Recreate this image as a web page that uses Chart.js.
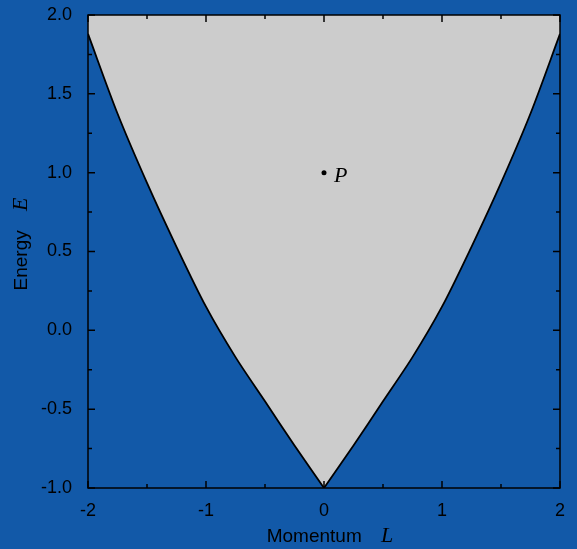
<!DOCTYPE html>
<html lang="en">
<head>
<meta charset="UTF-8">
<title>Energy vs momentum</title>
<script src="https://cdn.jsdelivr.net/npm/chart.js"></script>
<style>
  html, body { margin: 0; padding: 0; background: #1259a8; overflow: hidden; }
</style>
</head>
<body>
<canvas id="regionChart" width="577" height="549"></canvas>
<script>
// boundary of the allowed region, E read at steps of 0.25 in L
const momentumL = [-2, -1.75, -1.5, -1.25, -1, -0.75, -0.5, -0.25, 0, 0.25, 0.5, 0.75, 1, 1.25, 1.5, 1.75, 2];
const energyE = [1.88, 1.375, 0.935, 0.53, 0.15, -0.17, -0.45, -0.73, -1, -0.73, -0.45, -0.17, 0.15, 0.53, 0.935, 1.375, 1.88];
const pointP = { L: 0, E: 1, name: 'P' };
const xTicks = [-2, -1, 0, 1, 2];
const yTicks = [-1, -0.5, 0, 0.5, 1, 1.5, 2];
const xMinor = [-1.5, -0.5, 0.5, 1.5];
const yMinor = [-0.75, -0.25, 0.25, 0.75, 1.25, 1.75];

const curve = momentumL.map((L, i) => ({ x: L, y: energyE[i] }));
const cusp = momentumL.indexOf(0);
const leftBranch = curve.slice(0, cusp + 1);
const rightBranch = curve.slice(cusp);

const SANS = '"Liberation Sans", Arial, Helvetica, sans-serif';
const SERIF = '"Liberation Serif", "Times New Roman", serif';

// frame, inward ticks, axis titles and the P label
const decorations = {
    id: 'decorations',
    afterDatasetsDraw(chart) {
        const { ctx, chartArea: a, scales: { x, y } } = chart;
        ctx.save();
        ctx.strokeStyle = '#000';
        ctx.lineWidth = 1.5;
        ctx.strokeRect(a.left, a.top, a.right - a.left, a.bottom - a.top);

        ctx.beginPath();
        const xTick = (v, len) => {
            const px = x.getPixelForValue(v);
            ctx.moveTo(px, a.bottom); ctx.lineTo(px, a.bottom - len);
            ctx.moveTo(px, a.top); ctx.lineTo(px, a.top + len);
        };
        const yTick = (v, len) => {
            const py = y.getPixelForValue(v);
            ctx.moveTo(a.left, py); ctx.lineTo(a.left + len, py);
            ctx.moveTo(a.right, py); ctx.lineTo(a.right - len, py);
        };
        xTicks.forEach(v => xTick(v, 7));
        xMinor.forEach(v => xTick(v, 4));
        yTicks.forEach(v => yTick(v, 7));
        yMinor.forEach(v => yTick(v, 4));
        ctx.stroke();

        // label next to the point
        ctx.fillStyle = '#000';
        ctx.textBaseline = 'alphabetic';
        ctx.textAlign = 'left';
        ctx.font = 'italic 22px ' + SERIF;
        ctx.fillText(pointP.name, x.getPixelForValue(pointP.L) + 10, y.getPixelForValue(pointP.E) + 9);
        ctx.restore();
    },
    afterDraw(chart) {
        const { ctx, chartArea: a } = chart;
        ctx.save();
        ctx.fillStyle = '#000';
        ctx.textBaseline = 'alphabetic';
        ctx.textAlign = 'left';

        const gap = 14;
        const drawTitle = (word, symbol) => {
            ctx.font = '19px ' + SANS;
            const w1 = ctx.measureText(word + ' ').width + gap;
            ctx.font = 'italic 22px ' + SERIF;
            const w2 = ctx.measureText(symbol).width;
            const start = -(w1 + w2) / 2;
            ctx.font = '19px ' + SANS;
            ctx.fillText(word, start, 0);
            ctx.font = 'italic 22px ' + SERIF;
            ctx.fillText(symbol, start + w1, 0);
        };

        ctx.save();
        ctx.translate((a.left + a.right) / 2 + 6, 542);
        drawTitle('Momentum', 'L');
        ctx.restore();

        ctx.save();
        ctx.translate(27, 244);
        ctx.rotate(-Math.PI / 2);
        drawTitle('Energy', 'E');
        ctx.restore();

        ctx.restore();
    }
};

new Chart(document.getElementById('regionChart'), {
    type: 'line',
    data: {
        datasets: [
            {
                type: 'scatter',
                data: [{ x: pointP.L, y: pointP.E }],
                pointRadius: 2.5,
                pointBackgroundColor: '#000',
                pointBorderWidth: 0,
                showLine: false,
                order: 0
            },
            {
                // left half of the boundary, shaded up to E = 2
                data: leftBranch,
                borderColor: '#000',
                borderWidth: 1.8,
                backgroundColor: '#cccccc',
                pointRadius: 0,
                tension: 0.3,
                fill: 'end',
                order: 1
            },
            {
                data: rightBranch,
                borderColor: '#000',
                borderWidth: 1.8,
                backgroundColor: '#cccccc',
                pointRadius: 0,
                tension: 0.3,
                fill: 'end',
                order: 2
            }
        ]
    },
    options: {
        responsive: false,
        animation: false,
        layout: { padding: { top: 15, right: 17, left: 0, bottom: 0 } },
        plugins: {
            legend: { display: false },
            tooltip: { enabled: false }
        },
        scales: {
            x: {
                type: 'linear',
                min: -2,
                max: 2,
                grid: { display: false, drawTicks: false },
                border: { display: false },
                afterBuildTicks: s => { s.ticks = xTicks.map(v => ({ value: v })); },
                afterFit: s => { s.height = 61; s.paddingLeft = 0; s.paddingRight = 0; },
                ticks: {
                    color: '#000',
                    padding: 12,
                    maxRotation: 0,
                    font: { family: SANS, size: 18 },
                    callback: v => String(v)
                }
            },
            y: {
                type: 'linear',
                min: -1,
                max: 2,
                grid: { display: false, drawTicks: false },
                border: { display: false },
                afterBuildTicks: s => { s.ticks = yTicks.map(v => ({ value: v })); },
                afterFit: s => { s.width = 88; s.paddingTop = 0; s.paddingBottom = 0; },
                ticks: {
                    color: '#000',
                    padding: 16,
                    font: { family: SANS, size: 18 },
                    callback: v => v.toFixed(1)
                }
            }
        }
    },
    plugins: [decorations]
});
</script>
</body>
</html>
